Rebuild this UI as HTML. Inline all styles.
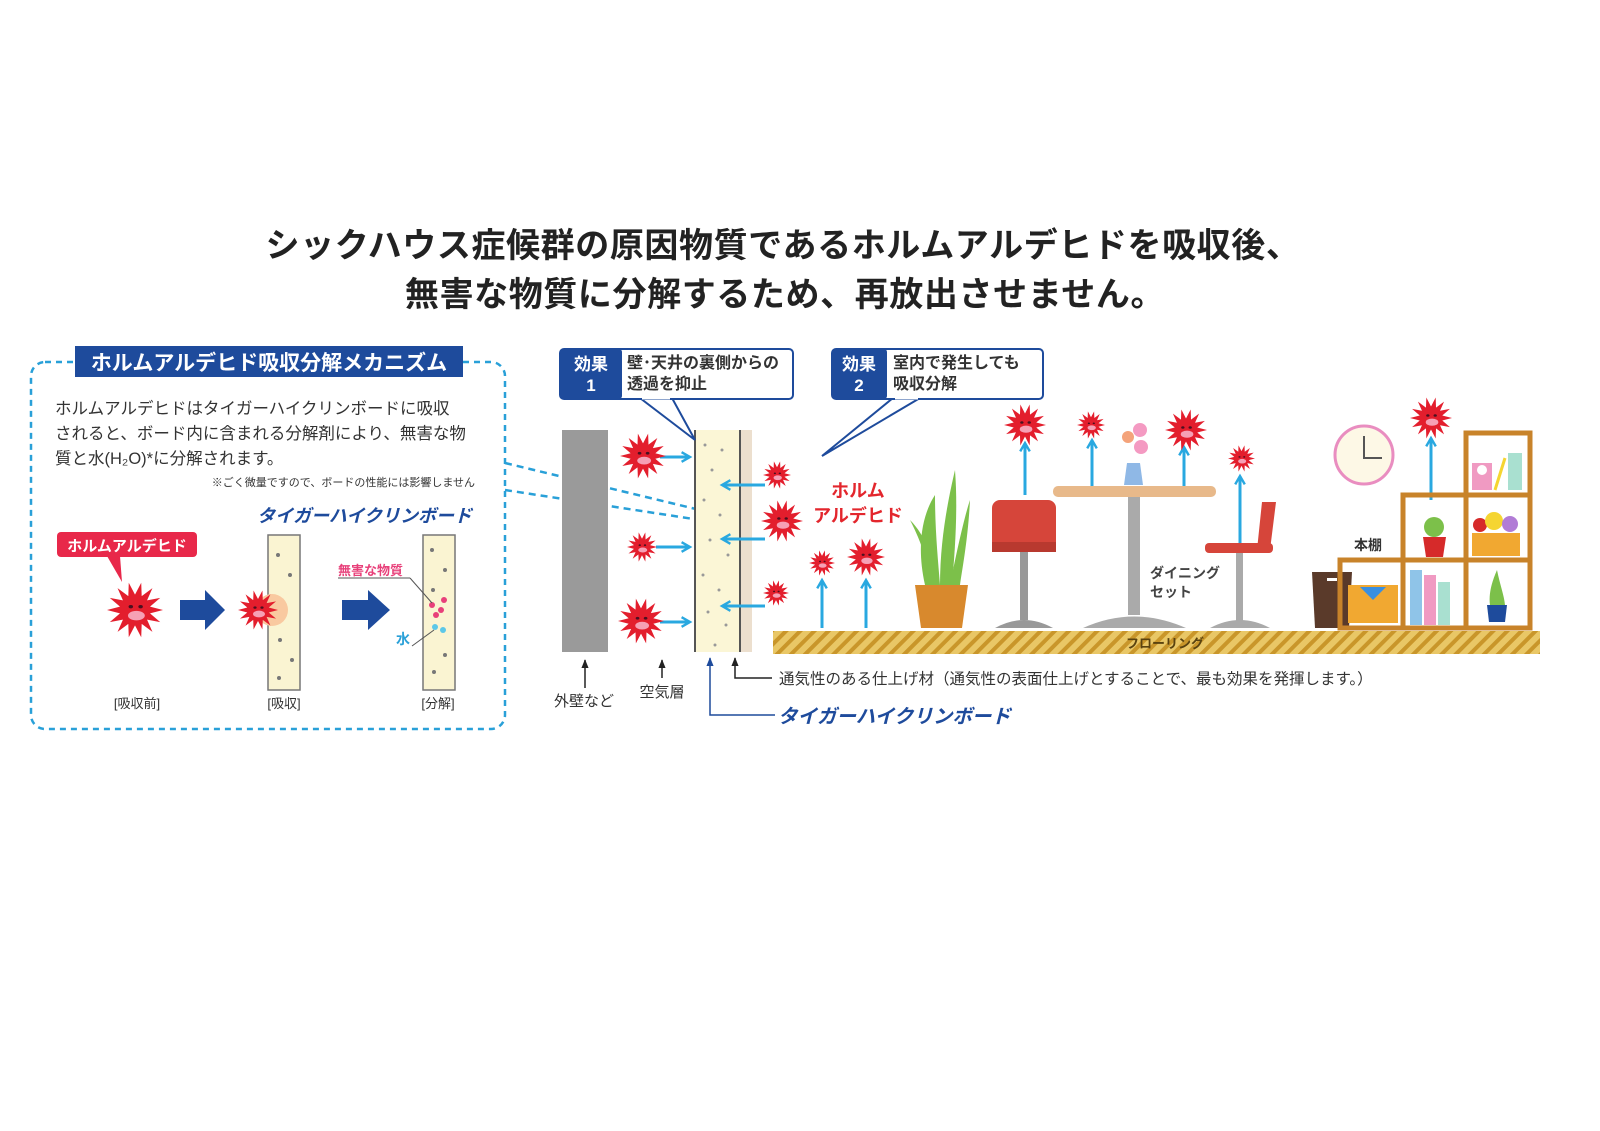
<!DOCTYPE html>
<html><head><meta charset="utf-8"><style>
html,body{margin:0;padding:0;background:#fff;}
svg{display:block;}
text{font-family:"Liberation Sans","Noto Sans CJK JP",sans-serif;}
</style></head><body>
<svg width="1600" height="1131" viewBox="0 0 1600 1131" xmlns="http://www.w3.org/2000/svg">
<defs>
<symbol id="st" viewBox="-1 -1 2 2">
<polygon fill="#e31e2d" points="1,0 0.536,0.122 0.901,0.434 0.43,0.343 0.623,0.782 0.239,0.496 0.2225,0.975 0,0.55 -0.2225,0.975 -0.239,0.496 -0.623,0.782 -0.43,0.343 -0.901,0.434 -0.536,0.122 -1,0 -0.536,-0.122 -0.901,-0.434 -0.43,-0.343 -0.623,-0.782 -0.239,-0.496 -0.2225,-0.975 0,-0.55 0.2225,-0.975 0.239,-0.496 0.623,-0.782 0.43,-0.343 0.901,-0.434 0.536,-0.122"/>
<circle r="0.55" fill="#e31e2d"/>
<ellipse cx="0.05" cy="0.2" rx="0.3" ry="0.17" fill="#f6a0b5"/>
<ellipse cx="-0.15" cy="-0.12" rx="0.08" ry="0.06" fill="#4a1020"/>
<ellipse cx="0.2" cy="-0.12" rx="0.08" ry="0.06" fill="#4a1020"/>
</symbol>
<pattern id="hatch" width="10" height="10" patternUnits="userSpaceOnUse" patternTransform="rotate(45)">
<rect width="10" height="10" fill="#e9c766"/><rect width="4" height="10" fill="#c9962a"/>
</pattern>
<marker id="ah" viewBox="0 0 10 10" refX="8" refY="5" markerWidth="4" markerHeight="4" orient="auto"><path d="M1,1 L8,5 L1,9" fill="none" stroke="#29a8e0" stroke-width="2"/></marker>
<marker id="bk" viewBox="0 0 10 10" refX="9" refY="5" markerWidth="6" markerHeight="6" orient="auto"><path d="M0,1 L10,5 L0,9z" fill="#222"/></marker>
<marker id="bl" viewBox="0 0 10 10" refX="9" refY="5" markerWidth="6" markerHeight="6" orient="auto"><path d="M0,1 L10,5 L0,9z" fill="#1e4b9c"/></marker>
</defs>

<text x="783" y="257" font-size="34" font-weight="bold" fill="#222" text-anchor="middle" letter-spacing="0.6">シックハウス症候群の原因物質であるホルムアルデヒドを吸収後、</text>
<text x="785" y="306" font-size="34" font-weight="bold" fill="#222" text-anchor="middle" letter-spacing="0.6">無害な物質に分解するため、再放出させません。</text>

<rect x="31" y="362" width="474" height="367" rx="14" fill="none" stroke="#29a0d8" stroke-width="2.5" stroke-dasharray="6,5"/>
<rect x="75" y="346" width="388" height="31" fill="#1e4b9c"/>
<text x="269" y="370" font-size="21" font-weight="bold" fill="#fff" text-anchor="middle">ホルムアルデヒド吸収分解メカニズム</text>
<text x="55" y="414" font-size="16.5" fill="#333">ホルムアルデヒドはタイガーハイクリンボードに吸収</text>
<text x="55" y="439" font-size="16.5" fill="#333">されると、ボード内に含まれる分解剤により、無害な物</text>
<text x="55" y="464" font-size="16.5" fill="#333">質と水(H₂O)*に分解されます。</text>
<text x="475" y="486" font-size="11" fill="#333" text-anchor="end">※ごく微量ですので、ボードの性能には影響しません</text>
<text x="472" y="522" font-size="18" font-weight="bold" font-style="italic" fill="#1e4b9c" text-anchor="end">タイガーハイクリンボード</text>
<rect x="57" y="532" width="140" height="25" rx="4" fill="#e8284a"/>
<polygon points="107,556 120,556 122,582" fill="#e8284a"/>
<text x="127" y="551" font-size="15" font-weight="bold" fill="#fff" text-anchor="middle">ホルムアルデヒド</text>
<use href="#st" x="107" y="582" width="56" height="56"/>
<polygon points="180,600 205,600 205,590 225,610 205,630 205,620 180,620" fill="#1e4b9c"/>
<rect x="268" y="535" width="32" height="155" fill="#faf4d2" stroke="#777" stroke-width="1.5"/>
<circle cx="272" cy="610" r="16" fill="#f9c9a0"/>
<use href="#st" x="238" y="590" width="40" height="40"/>
<polygon points="342,600 368,600 368,590 390,610 368,630 368,620 342,620" fill="#1e4b9c"/>
<rect x="423" y="535" width="32" height="155" fill="#faf4d2" stroke="#777" stroke-width="1.5"/>
<g fill="#777">
<circle cx="278" cy="555" r="2"/><circle cx="290" cy="575" r="2"/><circle cx="280" cy="640" r="2"/><circle cx="292" cy="660" r="2"/><circle cx="279" cy="678" r="2"/>
<circle cx="432" cy="550" r="2"/><circle cx="445" cy="570" r="2"/><circle cx="433" cy="590" r="2"/><circle cx="445" cy="655" r="2"/><circle cx="434" cy="672" r="2"/>
</g>
<g fill="#e8407a"><circle cx="432" cy="605" r="3"/><circle cx="441" cy="610" r="3"/><circle cx="436" cy="615" r="3"/><circle cx="444" cy="600" r="3"/></g>
<g fill="#5cc8e8"><circle cx="435" cy="627" r="3"/><circle cx="443" cy="630" r="3"/></g>
<text x="338" y="575" font-size="13" font-weight="bold" fill="#e8407a">無害な物質</text>
<line x1="338" y1="578" x2="410" y2="578" stroke="#555"/><line x1="410" y1="578" x2="432" y2="603" stroke="#555"/>
<text x="396" y="644" font-size="14" font-weight="bold" fill="#29a0d8">水</text>
<line x1="412" y1="646" x2="434" y2="630" stroke="#555"/>
<text x="137" y="708" font-size="13" fill="#333" text-anchor="middle">[吸収前]</text>
<text x="284" y="708" font-size="13" fill="#333" text-anchor="middle">[吸収]</text>
<text x="438" y="708" font-size="13" fill="#333" text-anchor="middle">[分解]</text>

<line x1="505" y1="463" x2="700" y2="510" stroke="#29a0d8" stroke-width="2.5" stroke-dasharray="7,5"/>
<line x1="505" y1="490" x2="700" y2="520" stroke="#29a0d8" stroke-width="2.5" stroke-dasharray="7,5"/>

<rect x="562" y="430" width="46" height="222" fill="#9a9a9a"/>
<rect x="740" y="430" width="12" height="222" fill="#ecdfce"/>
<rect x="695" y="430" width="45" height="222" fill="#fbf6d6"/>
<line x1="695" y1="430" x2="695" y2="652" stroke="#555" stroke-width="2"/>
<line x1="740" y1="430" x2="740" y2="652" stroke="#555" stroke-width="2"/>
<g fill="#999">
<circle cx="705" cy="445" r="1.5"/><circle cx="722" cy="450" r="1.5"/><circle cx="712" cy="470" r="1.5"/><circle cx="730" cy="485" r="1.5"/><circle cx="704" cy="500" r="1.5"/><circle cx="720" cy="515" r="1.5"/><circle cx="710" cy="540" r="1.5"/><circle cx="728" cy="555" r="1.5"/><circle cx="703" cy="575" r="1.5"/><circle cx="719" cy="590" r="1.5"/><circle cx="708" cy="612" r="1.5"/><circle cx="726" cy="625" r="1.5"/><circle cx="715" cy="645" r="1.5"/>
</g>
<g stroke="#29a8e0" stroke-width="3" fill="none" marker-end="url(#ah)">
<line x1="660" y1="457" x2="690" y2="457"/><line x1="656" y1="547" x2="690" y2="547"/><line x1="660" y1="622" x2="690" y2="622"/>
<line x1="765" y1="485" x2="722" y2="485"/><line x1="765" y1="539" x2="722" y2="539"/><line x1="765" y1="606" x2="722" y2="606"/>
<line x1="822" y1="628" x2="822" y2="580"/><line x1="866" y1="628" x2="866" y2="580"/>
<line x1="1025" y1="495" x2="1025" y2="443"/><line x1="1092" y1="490" x2="1092" y2="440"/><line x1="1184" y1="490" x2="1184" y2="447"/>
<line x1="1240" y1="560" x2="1240" y2="476"/><line x1="1431" y1="500" x2="1431" y2="438"/>
</g>
<use href="#st" x="620" y="433" width="46" height="46"/>
<use href="#st" x="627" y="532" width="30" height="30"/>
<use href="#st" x="618" y="598" width="46" height="46"/>
<use href="#st" x="763" y="461" width="28" height="28"/>
<use href="#st" x="761" y="500" width="42" height="42"/>
<use href="#st" x="763" y="580" width="26" height="26"/>
<use href="#st" x="809" y="550" width="26" height="26"/>
<use href="#st" x="847" y="538" width="38" height="38"/>
<use href="#st" x="1004" y="404" width="42" height="42"/>
<use href="#st" x="1077" y="411" width="28" height="28"/>
<use href="#st" x="1165" y="409" width="42" height="42"/>
<use href="#st" x="1228" y="445" width="27" height="27"/>
<use href="#st" x="1410" y="397" width="42" height="42"/>
<text x="858" y="497" font-size="18" font-weight="bold" fill="#e3262d" text-anchor="middle">ホルム</text>
<text x="858" y="522" font-size="18" font-weight="bold" fill="#e3262d" text-anchor="middle">アルデヒド</text>

<polygon points="640,398 672,398 695,440" fill="#fff" stroke="#1e4b9c" stroke-width="2"/>
<rect x="560" y="349" width="233" height="50" rx="4" fill="#fff" stroke="#1e4b9c" stroke-width="2"/>
<line x1="642" y1="398" x2="670" y2="398" stroke="#fff" stroke-width="3"/>
<rect x="560" y="349" width="62" height="50" rx="3" fill="#1e4b9c"/>
<text x="591" y="370" font-size="17" font-weight="bold" fill="#fff" text-anchor="middle">効果</text>
<text x="591" y="391" font-size="17" font-weight="bold" fill="#fff" text-anchor="middle">1</text>
<text x="627" y="368" font-size="16" font-weight="bold" fill="#333">壁･天井の裏側からの</text>
<text x="627" y="389" font-size="16" font-weight="bold" fill="#333">透過を抑止</text>
<polygon points="893,398 920,398 822,456" fill="#fff" stroke="#1e4b9c" stroke-width="2"/>
<rect x="832" y="349" width="211" height="50" rx="4" fill="#fff" stroke="#1e4b9c" stroke-width="2"/>
<line x1="895" y1="398" x2="918" y2="398" stroke="#fff" stroke-width="3"/>
<rect x="832" y="349" width="55" height="50" rx="3" fill="#1e4b9c"/>
<text x="859" y="370" font-size="17" font-weight="bold" fill="#fff" text-anchor="middle">効果</text>
<text x="859" y="391" font-size="17" font-weight="bold" fill="#fff" text-anchor="middle">2</text>
<text x="893" y="368" font-size="16" font-weight="bold" fill="#333">室内で発生しても</text>
<text x="893" y="389" font-size="16" font-weight="bold" fill="#333">吸収分解</text>

<rect x="773" y="631" width="767" height="23" fill="url(#hatch)"/>
<text x="1165" y="648" font-size="13" font-weight="bold" fill="#5a4310" text-anchor="middle">フローリング</text>

<g fill="#7cc04a"><path d="M925,585 C915,540 925,510 935,495 C935,530 938,560 940,585z"/><path d="M940,585 C940,540 948,500 955,470 C958,510 955,550 952,585z"/><path d="M950,585 C958,545 965,515 970,500 C968,540 962,570 960,585z"/><path d="M930,585 C928,555 915,530 910,520 C925,535 935,560 938,585z"/></g>
<path d="M915,585 L968,585 L962,628 L921,628z" fill="#d8892d"/>

<rect x="992" y="500" width="64" height="50" rx="8" fill="#d6453a"/>
<rect x="992" y="542" width="64" height="10" fill="#b8392f"/>
<rect x="1020" y="552" width="8" height="68" fill="#999"/>
<path d="M995,628 Q1024,612 1053,628z" fill="#999"/>
<rect x="1053" y="486" width="163" height="11" rx="5" fill="#e8b98a"/>
<rect x="1128" y="497" width="12" height="118" fill="#aaa"/>
<path d="M1083,628 Q1134,605 1186,628z" fill="#aaa"/>
<path d="M1127,463 L1140,463 L1143,485 L1124,485z" fill="#8fb8e6"/>
<circle cx="1128" cy="437" r="6" fill="#f4a37a"/><circle cx="1140" cy="430" r="7" fill="#f49ac2"/><circle cx="1141" cy="447" r="7" fill="#f49ac2"/>
<polygon points="1262,502 1276,502 1270,550 1257,550" fill="#d6453a"/>
<rect x="1205" y="543" width="68" height="10" rx="4" fill="#d6453a"/>
<rect x="1236" y="553" width="7" height="68" fill="#aaa"/>
<path d="M1210,628 Q1240,612 1270,628z" fill="#aaa"/>
<text x="1185" y="578" font-size="14" font-weight="bold" fill="#444" text-anchor="middle">ダイニング</text>
<text x="1171" y="597" font-size="14" font-weight="bold" fill="#444" text-anchor="middle">セット</text>
<path d="M1312,572 L1352,572 L1349,628 L1315,628z" fill="#5a3a2a"/>
<rect x="1327" y="578" width="10" height="3" fill="#fff"/>
<circle cx="1364" cy="455" r="29" fill="#fdf8e6" stroke="#e98dc0" stroke-width="3"/>
<polyline points="1364,436 1364,458 1382,458" fill="none" stroke="#555" stroke-width="2"/>
<g fill="none" stroke="#c8832a" stroke-width="5">
<rect x="1340" y="560" width="190" height="68"/>
<rect x="1403" y="495" width="127" height="65"/>
<rect x="1466" y="433" width="64" height="62"/>
<line x1="1403" y1="560" x2="1403" y2="628"/><line x1="1466" y1="495" x2="1466" y2="628"/>
</g>
<rect x="1348" y="585" width="50" height="38" fill="#f1a831"/><polygon points="1360,587 1386,587 1373,600" fill="#3a8fe0"/>
<rect x="1410" y="570" width="12" height="55" fill="#8fc4e8"/><rect x="1424" y="575" width="12" height="50" fill="#f09ac2"/><rect x="1438" y="582" width="12" height="43" fill="#a9e0d0"/>
<path d="M1487,605 L1507,605 L1505,622 L1489,622z" fill="#1e4b9c"/><path d="M1490,605 C1488,590 1495,575 1497,570 C1500,585 1504,595 1505,605z" fill="#7cc04a"/>
<path d="M1423,537 L1446,537 L1443,557 L1426,557z" fill="#d62a2a"/><circle cx="1434" cy="527" r="10" fill="#7cc04a"/>
<rect x="1472" y="533" width="48" height="23" fill="#f1a831"/><circle cx="1480" cy="525" r="7" fill="#d62a2a"/><circle cx="1494" cy="521" r="9" fill="#f5d531"/><circle cx="1510" cy="524" r="8" fill="#b17cd6"/>
<rect x="1472" y="463" width="20" height="27" fill="#f09ac2"/><circle cx="1482" cy="470" r="5" fill="#fff"/>
<line x1="1495" y1="490" x2="1505" y2="458" stroke="#f5d531" stroke-width="3"/>
<rect x="1508" y="453" width="14" height="37" fill="#a9e0d0"/>
<text x="1368" y="550" font-size="14" font-weight="bold" fill="#333" text-anchor="middle">本棚</text>

<line x1="585" y1="688" x2="585" y2="660" stroke="#222" stroke-width="1.5" marker-end="url(#bk)"/>
<line x1="662" y1="678" x2="662" y2="660" stroke="#222" stroke-width="1.5" marker-end="url(#bk)"/>
<text x="584" y="706" font-size="15" fill="#333" text-anchor="middle">外壁など</text>
<text x="662" y="697" font-size="15" fill="#333" text-anchor="middle">空気層</text>
<polyline points="775,715 710,715 710,658" fill="none" stroke="#1e4b9c" stroke-width="1.5" marker-end="url(#bl)"/>
<polyline points="772,678 735,678 735,658" fill="none" stroke="#222" stroke-width="1.5" marker-end="url(#bk)"/>
<text x="779" y="684" font-size="15.5" fill="#333">通気性のある仕上げ材（通気性の表面仕上げとすることで、最も効果を発揮します。）</text>
<text x="778" y="723" font-size="19.5" font-weight="bold" font-style="italic" fill="#1e4b9c">タイガーハイクリンボード</text>
</svg>
</body></html>
